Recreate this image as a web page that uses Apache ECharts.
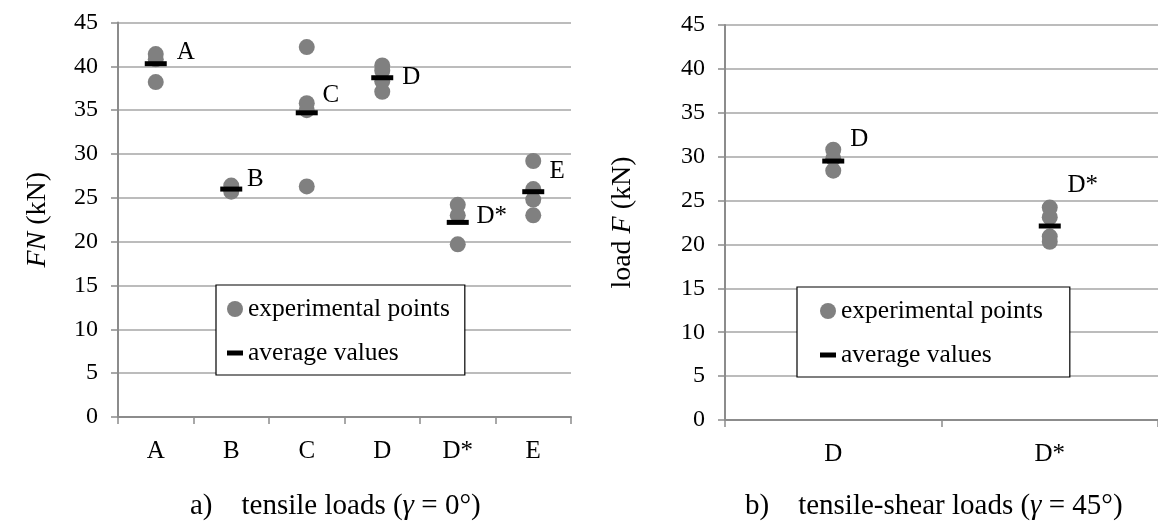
<!DOCTYPE html>
<html>
<head>
<meta charset="utf-8">
<script src="https://cdn.jsdelivr.net/npm/echarts@6/dist/echarts.min.js"></script>
<style>
  html, body { margin: 0; padding: 0; background: #fff; }
  #main { width: 1158px; height: 527px; }
</style>
</head>
<body>
<div id="main"></div>
<script>
// chart a) tensile loads
var catsA = ['A', 'B', 'C', 'D', 'D*', 'E'];
var pointsA = [
  [41.4, 40.8, 38.2],
  [26.4, 25.7],
  [42.2, 35.8, 35.0, 26.3],
  [40.1, 39.5, 38.3, 37.1],
  [24.2, 23.0, 19.7],
  [29.2, 26.0, 24.8, 23.0]
];
var avgA = [40.3, 26.0, 34.7, 38.7, 22.2, 25.7];

// chart b) tensile-shear loads
var catsB = ['D', 'D*'];
var pointsB = [
  [30.8, 29.8, 28.4],
  [24.2, 23.1, 20.9, 20.3]
];
var avgB = [29.5, 22.1];

var yTicks = [0, 5, 10, 15, 20, 25, 30, 35, 40, 45];

// where the letter sits next to each average mark (px)
var labelShiftA = [[30, -11], [24, -10], [24, -17], [29, 0], [34, -6], [24, -20]];
var labelShiftB = [[26, -22], [33, -41]];

var serif = "'Liberation Serif', 'Times New Roman', serif";
var grey = '#808080';

function pointData(cats, pts) {
  var out = [];
  cats.forEach(function (c, i) {
    pts[i].forEach(function (v) { out.push([c, v]); });
  });
  return out;
}

function avgData(cats, avg, shift) {
  return cats.map(function (c, i) {
    return {
      value: [c, avg[i]],
      label: { offset: shift[i] }
    };
  });
}

function xAxis(gi, cats) {
  return {
    type: 'category', gridIndex: gi, data: cats,
    axisLine: { lineStyle: { color: '#8c8c8c', width: 2 } },
    axisTick: { show: true, length: 7, lineStyle: { color: '#8c8c8c', width: 1.5 } },
    axisLabel: { color: '#000', fontFamily: serif, fontSize: 25, margin: 22 },
    splitLine: { show: false }
  };
}

function yAxis(gi, nameRich, gap) {
  return {
    type: 'value', gridIndex: gi, min: yTicks[0], max: yTicks[yTicks.length - 1], interval: 5,
    name: nameRich, nameLocation: 'middle', nameRotate: 90, nameGap: gap,
    nameTextStyle: {
      color: '#000', fontFamily: serif, fontSize: 28,
      rich: { i: { fontStyle: 'italic', fontFamily: serif, fontSize: 28, color: '#000' } }
    },
    axisLine: { show: true, lineStyle: { color: '#8c8c8c', width: 2 } },
    axisTick: { show: true, length: 7, lineStyle: { color: '#8c8c8c', width: 1.5 } },
    axisLabel: { color: '#000', fontFamily: serif, fontSize: 24, margin: 20 },
    splitLine: { lineStyle: { color: '#a6a6a6', width: 1.5 } }
  };
}

function legend(left, top, pad) {
  return {
    left: left, top: top, orient: 'vertical',
    data: [
      { name: 'experimental points', icon: 'circle' },
      { name: 'average values', icon: 'path://M0,0H16V5H0Z' }
    ],
    itemWidth: 16, itemHeight: 16, itemGap: 18,
    padding: pad,
    borderColor: '#000', borderWidth: 1.2, backgroundColor: '#fff',
    textStyle: { color: '#000', fontFamily: serif, fontSize: 25.5, lineHeight: 26 },
    selectedMode: false
  };
}

var letterLabel = {
  show: true, position: 'inside', color: '#000',
  fontFamily: serif, fontSize: 25,
  formatter: function (p) { return p.value[0]; }
};

var captionStyle = {
  color: '#000', fontFamily: serif, fontSize: 29, fontWeight: 'normal', lineHeight: 29,
  rich: { i: { fontStyle: 'italic', fontFamily: serif, fontSize: 29, color: '#000' } }
};

var chart = echarts.init(document.getElementById('main'), null, { renderer: 'canvas' });

var option = {
  animation: false,
  title: [
    { text: 'a)    tensile loads ({i|γ} = 0°)', left: 190, top: 492, padding: 0, textStyle: captionStyle },
    { text: 'b)    tensile-shear loads ({i|γ} = 45°)', left: 745, top: 492, padding: 0, textStyle: captionStyle }
  ],
  legend: [legend(216, 285, [11, 15, 9, 11]), legend(797, 287, [11, 27, 9, 23])],
  grid: [
    { left: 118, top: 22.5, width: 453, height: 394.5 },
    { left: 725, top: 25, width: 438, height: 395 }
  ],
  xAxis: [xAxis(0, catsA), xAxis(1, catsB)],
  yAxis: [yAxis(0, '{i|FN} (kN)', 66), yAxis(1, 'load {i|F} (kN)', 88)],
  series: [
    {
      name: 'experimental points', type: 'scatter', xAxisIndex: 0, yAxisIndex: 0,
      symbol: 'circle', symbolSize: 16, itemStyle: { color: grey, opacity: 1 },
      data: pointData(catsA, pointsA), z: 2
    },
    {
      name: 'average values', type: 'scatter', xAxisIndex: 0, yAxisIndex: 0,
      symbol: 'rect', symbolSize: [22, 5], itemStyle: { color: '#000', opacity: 1 },
      label: letterLabel,
      data: avgData(catsA, avgA, labelShiftA), z: 3
    },
    {
      name: 'experimental points', type: 'scatter', xAxisIndex: 1, yAxisIndex: 1,
      symbol: 'circle', symbolSize: 16, itemStyle: { color: grey, opacity: 1 },
      data: pointData(catsB, pointsB), z: 2
    },
    {
      name: 'average values', type: 'scatter', xAxisIndex: 1, yAxisIndex: 1,
      symbol: 'rect', symbolSize: [22, 5], itemStyle: { color: '#000', opacity: 1 },
      label: letterLabel,
      data: avgData(catsB, avgB, labelShiftB), z: 3
    }
  ]
};

chart.setOption(option);
</script>
</body>
</html>
